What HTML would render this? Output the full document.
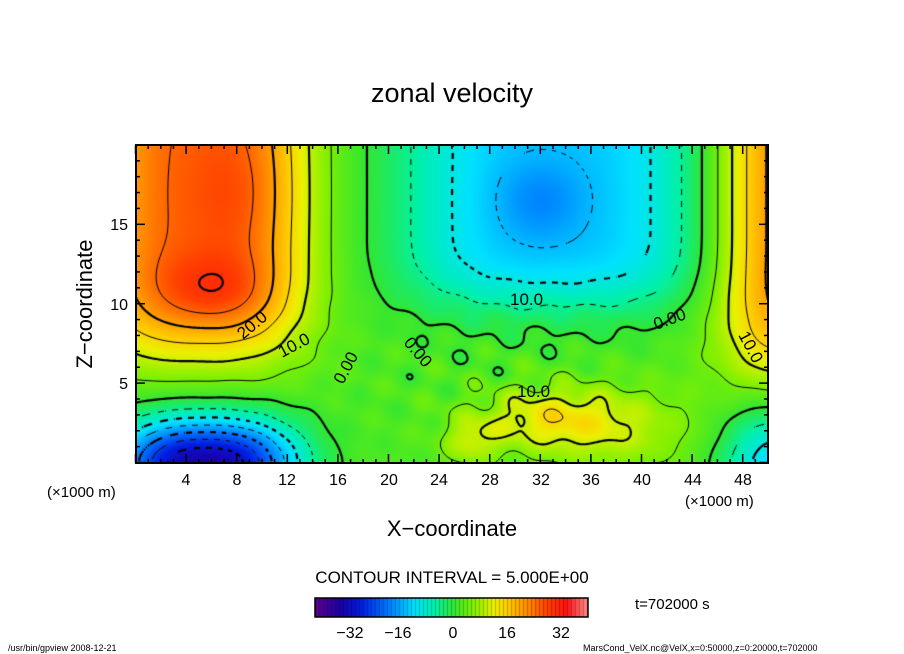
<!DOCTYPE html>
<html><head><meta charset="utf-8"><style>
html,body{margin:0;padding:0;background:#fff;width:904px;height:654px;overflow:hidden}
#c{position:absolute;left:136px;top:145px}
#cb{position:absolute;left:315px;top:598px}
svg{position:absolute;left:0;top:0}
text{font-family:"Liberation Sans",sans-serif;fill:#000}
</style></head><body>
<canvas id="c" width="632" height="318"></canvas>
<canvas id="cb" width="273" height="19"></canvas>
<svg width="904" height="654" id="s">
<text x="452" y="102" font-size="27" text-anchor="middle">zonal velocity</text>
<rect x="136" y="145" width="632" height="318" fill="none" stroke="#000" stroke-width="2"/>
<g id="ticks" stroke="#000" stroke-width="1.5"></g>
<g font-size="16" text-anchor="middle">
<text x="186" y="485">4</text><text x="237" y="485">8</text><text x="287" y="485">12</text><text x="338" y="485">16</text><text x="389" y="485">20</text><text x="439" y="485">24</text><text x="490" y="485">28</text><text x="541" y="485">32</text><text x="591" y="485">36</text><text x="642" y="485">40</text><text x="693" y="485">44</text><text x="743" y="485">48</text>
</g>
<g font-size="16" text-anchor="end">
<text x="128" y="230">15</text><text x="128" y="310">10</text><text x="128" y="389">5</text>
</g>
<text x="47" y="497" font-size="15">(×1000 m)</text>
<text x="685" y="506" font-size="15">(×1000 m)</text>
<text x="452" y="536" font-size="22" text-anchor="middle">X−coordinate</text>
<text transform="translate(92,304) rotate(-90)" font-size="22" text-anchor="middle">Z−coordinate</text>
<text x="452" y="583" font-size="17" text-anchor="middle">CONTOUR INTERVAL = 5.000E+00</text>
<text x="635" y="609" font-size="15">t=702000 s</text>
<g font-size="16" text-anchor="middle">
<text x="350" y="638">−32</text><text x="398" y="638">−16</text><text x="453" y="638">0</text><text x="507" y="638">16</text><text x="561" y="638">32</text>
</g>
<rect x="315" y="598" width="273" height="19" fill="none" stroke="#000" stroke-width="1.5"/>
<text x="8" y="651" font-size="9">/usr/bin/gpview   2008-12-21</text>
<text x="583" y="651" font-size="9">MarsCond_VelX.nc@VelX,x=0:50000,z=0:20000,t=702000</text>
<g font-size="17">
<text transform="translate(243,340) rotate(-40)">20.0</text>
<text transform="translate(282,358) rotate(-28)">10.0</text>
<text transform="translate(343,385) rotate(-62)">0.00</text>
<text transform="translate(403,343) rotate(50)">0.00</text>
<text x="517" y="397">10.0</text>
<text x="510" y="305">10.0</text>
<text transform="translate(656,330) rotate(-20)">0.00</text>
<text transform="translate(738,335) rotate(62)">10.0</text>
</g>
</svg>
<script>
function sg(d,w,p){return Math.exp(-Math.pow(Math.abs(d/w),p));}
function G(dx,dz,sx,sz){return Math.exp(-(dx*dx/(2*sx*sx)+dz*dz/(2*sz*sz)));}
function f(x,z){
 var v=2;
 var zw=z>13.5?1:sg(z-13.5,7,3);
 v+=23*sg(x-5,8.5,3)*zw;
 v+=6*G(x-6,z-10.8,3,1.6);
 v+=3*G(x-8,z-17,3,3);
 v+=-36*sg(x-5.5,7,2.5)*sg(z,2.8,2);
 var zb=z>15?1:sg(z-15,5.5,3);
 v+=-16*sg(x-33,12,3)*zb;
 v+=-5*G(x-32,z-16.5,2.5,1.8);
 var zr=z>13?1:sg(z-13,8,3);
 v+=20*sg(x-51,5,2)*zr;
 v+=-15*G(x-50.5,z,3,2.6);
 v+=9*G(x-32.5,z-2.8,4,1.3)+7*G(x-26.5,z-1.3,1.5,1)+6*G(x-38,z-2,5,2);
 v+=3*Math.sin(x*1.3+z*0.9)*Math.sin(z*1.7-x*0.5)*G(x-29,z-5,9,3);
 return v;
}
var stops=[[-42,[90,0,140]],[-34,[25,0,170]],[-28,[0,30,225]],[-20,[0,120,255]],[-12,[0,225,255]],[-6,[0,240,170]],[0,[50,230,50]],[6,[130,240,0]],[12,[235,240,0]],[16,[255,205,0]],[22,[255,140,0]],[28,[255,65,0]],[34,[255,15,15]],[40,[255,130,130]]];
function col(v){
 if(v<=stops[0][0])return stops[0][1];
 for(var i=1;i<stops.length;i++){if(v<=stops[i][0]){var a=stops[i-1],b=stops[i],t=(v-a[0])/(b[0]-a[0]);return [0,1,2].map(function(k){return Math.round(a[1][k]+(b[1][k]-a[1][k])*t)});}}
 return stops[stops.length-1][1];
}
var W=632,H=318,c=document.getElementById('c'),ctx=c.getContext('2d');
var img=ctx.createImageData(W,H);
for(var j=0;j<H;j++)for(var i=0;i<W;i++){
 var x=(i+0.5)/W*50,z=20-(j+0.5)/H*20,cc=col(f(x,z)),p=(j*W+i)*4;
 img.data[p]=cc[0];img.data[p+1]=cc[1];img.data[p+2]=cc[2];img.data[p+3]=255;}
ctx.putImageData(img,0,0);
var S=2,nx=Math.floor(W/S)+1,ny=Math.floor(H/S)+1,g=[];
for(var j=0;j<ny;j++){g[j]=[];for(var i=0;i<nx;i++)g[j][i]=f(i*S/W*50,20-j*S/H*20);}
ctx.strokeStyle='#000';
for(var L=-35;L<=35;L+=5){
 ctx.lineWidth=(L%10==0)?2.2:1;
 ctx.beginPath();
 for(var j=0;j<ny-1;j++)for(var i=0;i<nx-1;i++){
  if(L<0&&Math.floor((i+j)/3)%2==1)continue;
  var a=g[j][i],b=g[j][i+1],cq=g[j+1][i+1],d=g[j+1][i];
  var pts=[];
  function e(v1,v2,x1,y1,x2,y2){if((v1-L)*(v2-L)<0){var t=(L-v1)/(v2-v1);pts.push([(x1+(x2-x1)*t)*S,(y1+(y2-y1)*t)*S]);}}
  e(a,b,i,j,i+1,j);e(b,cq,i+1,j,i+1,j+1);e(d,cq,i,j+1,i+1,j+1);e(a,d,i,j,i,j+1);
  for(var k=0;k+1<pts.length;k+=2){ctx.moveTo(pts[k][0],pts[k][1]);ctx.lineTo(pts[k+1][0],pts[k+1][1]);}
 }
 ctx.stroke();
}
var cb=document.getElementById('cb').getContext('2d');
for(var i=0;i<273;i+=4){var v=-42+(i+2)/273*82.5,cc=col(v);cb.fillStyle='rgb('+cc+')';cb.fillRect(i,0,4,19);cb.fillStyle='rgba(0,0,0,0.25)';cb.fillRect(i,0,1,19);}
var t='',tg=document.getElementById('ticks');
for(var k=0;k<=50;k++){var x=135.5+k*12.65,l=(k%4==0)?9:4;t+='<line x1="'+x+'" y1="463" x2="'+x+'" y2="'+(463-l)+'"/><line x1="'+x+'" y1="145" x2="'+x+'" y2="'+(145+l)+'"/>';}
for(var k=0;k<=20;k++){var y=462.5-k*15.88,l=(k%5==0)?9:4;t+='<line x1="136" y1="'+y+'" x2="'+(136+l)+'" y2="'+y+'"/><line x1="768" y1="'+y+'" x2="'+(768-l)+'" y2="'+y+'"/>';}
tg.innerHTML=t;
</script>
</body></html>
